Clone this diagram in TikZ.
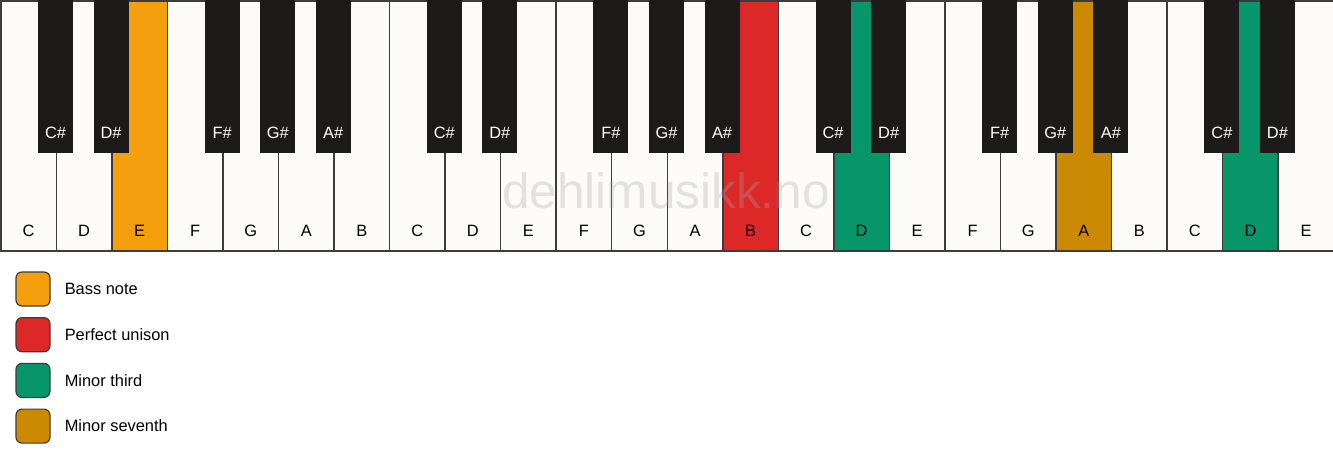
\documentclass[tikz,border=0pt]{standalone}
\usepackage{fontspec}
\setmainfont{Liberation Sans}
\usetikzlibrary{positioning}
\definecolor{keywhite}{RGB}{252,251,248}
\definecolor{keyblack}{RGB}{28,27,26}
\definecolor{keyline}{RGB}{60,60,60}
\definecolor{bassorange}{RGB}{243,159,14}
\definecolor{unisonred}{RGB}{221,40,40}
\definecolor{thirdgreen}{RGB}{6,150,106}
\definecolor{seventhgold}{RGB}{204,138,4}

\begin{document}
\begin{tikzpicture}
			[x=1pt, y=1pt,
			whitekey/.style={draw=keyline, line width=1.5pt, minimum width=55.54pt, minimum height=250pt, inner sep=0, anchor=north west},
			blackkey/.style={fill=keyblack, minimum width=35pt, minimum height=153pt, inner sep=0, anchor=north},
			keyname/.style={font=\fontsize{16.4}{19}\selectfont, inner sep=0, anchor=base},
			swatch/.style={draw=keyline, line width=1.2pt, rounded corners=6pt, minimum size=34pt, inner sep=0},
			legendtext/.style={font=\fontsize{16.4}{19}\selectfont, inner sep=0}]
			\fill[white] (0,0) rectangle (1333,-461);
			\useasboundingbox (0,0) rectangle (1333,-461);
			
			% white keys
			\foreach \n/\c [count=\i from 0] in {C/keywhite, D/keywhite, E/bassorange, F/keywhite, G/keywhite, A/keywhite, B/keywhite,
				C/keywhite, D/keywhite, E/keywhite, F/keywhite, G/keywhite, A/keywhite, B/unisonred,
				C/keywhite, D/thirdgreen, E/keywhite, F/keywhite, G/keywhite, A/seventhgold, B/keywhite,
				C/keywhite, D/thirdgreen, E/keywhite}
			{
				\node[whitekey, fill=\c] (w\i) at (\i*55.5417,0) {};
				\node[keyname] (wl\i) at ([yshift=15pt]w\i.south) {\n};
			}
			
			% black keys
			\foreach \b/\n in {1/C\#, 2/D\#, 4/F\#, 5/G\#, 6/A\#, 8/C\#, 9/D\#, 11/F\#, 12/G\#, 13/A\#,
				15/C\#, 16/D\#, 18/F\#, 19/G\#, 20/A\#, 22/C\#, 23/D\#}
			{
				\node[blackkey] (b\b) at (\b*55.5417,0) {};
				\node[keyname, text=white] (bl\b) at ([yshift=15pt]b\b.south) {\n};
			}
			
			\node[font=\fontsize{49.5}{58}\selectfont, text=gray!70, text opacity=0.3, inner sep=0, anchor=base] (mark) at (666,-208) {dehlimusikk.no};
			
			% legend
			\node[swatch, fill=bassorange] (s1) at (33,-289) {};
			\node[swatch, fill=unisonred, below=10.5pt of s1] (s2) {};
			\node[swatch, fill=thirdgreen, below=10.5pt of s2] (s3) {};
			\node[swatch, fill=seventhgold, below=10.5pt of s3] (s4) {};
			\node[legendtext, right=14pt of s1] (t1) {Bass note};
			\node[legendtext, right=14pt of s2] (t2) {Perfect unison};
			\node[legendtext, right=14pt of s3] (t3) {Minor third};
			\node[legendtext, right=14pt of s4] (t4) {Minor seventh};
			\end{tikzpicture}
\end{document}
